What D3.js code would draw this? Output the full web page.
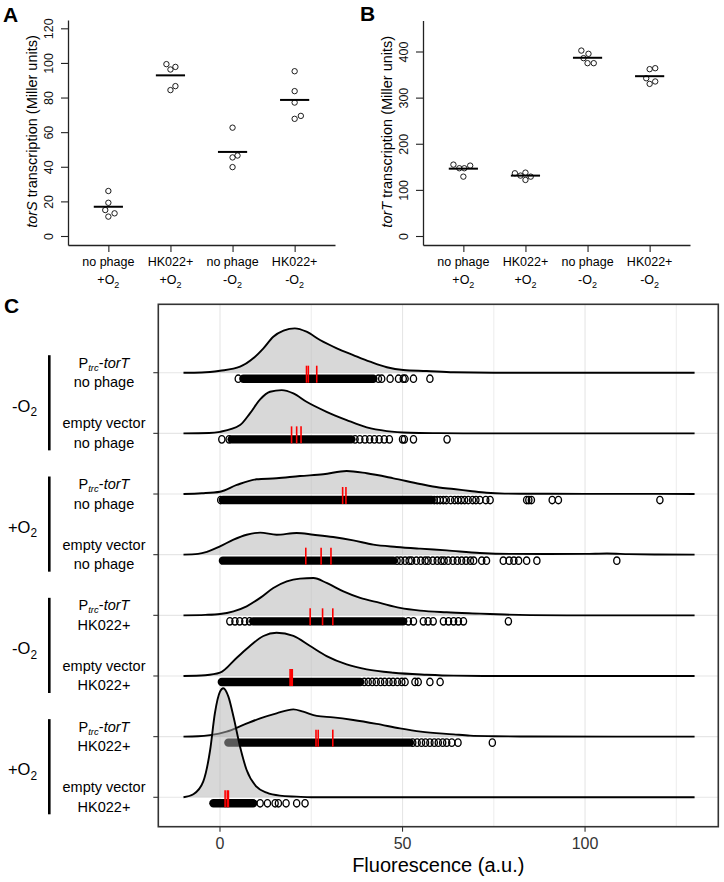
<!DOCTYPE html>
<html><head><meta charset="utf-8">
<script src="https://cdn.jsdelivr.net/npm/d3@7"></script>
<style>
body{margin:0;background:#fff;}
svg{display:block;font-family:"Liberation Sans",Arial,Helvetica,sans-serif;}
</style></head><body>
<svg id="chart" width="724" height="882"></svg>
<script>
// ---------- Panels A & B data ----------
const catLine1 = ["no phage","HK022+","no phage","HK022+"];
const catSign  = ["+","+","-","-"];
const torS = [[26,19.2,15,13.1,11.2],[99.3,97.7,96.2,86.6,84.3],[62.6,45.4,46.5,39.8],[95.2,83.7,77.1,69.4,67.7]];
const jitterA = [[0,0,-0.05,0.1,0],[-0.065,0.08,0,0.08,0],[0,0,0.08,0],[0,0,0,0.1,0]];
const ticksA = [0,20,40,60,80,100,120];
const torT = [[154.8,146.9,146.9,152.6,128.7],[136,131,137.4,128.7,121.5],[402,395,385.6,374.7,374.7],[361.7,363.8,342,335,329.8]];
const jitterB = [[-0.16,-0.065,0.015,0.11,0],[-0.17,-0.08,0,0.085,0],[-0.1,0.015,-0.065,0,0.1],[0,0.09,-0.055,0.09,0]];
const ticksB = [0,100,200,300,400];

// ---------- Panel C data ----------
const rowConstruct = ["Ptrc","empty vector","Ptrc","empty vector","Ptrc","empty vector","Ptrc","empty vector"];
const rowPhage = ["no phage","no phage","no phage","no phage","HK022+","HK022+","HK022+","HK022+"];
const groupSign = ["-","+","-","+"];
const densityX = [
 [-10,-5,0,5.5,9.1,11.9,14.6,17.4,20.5,23.7,27.4,32,36.5,41.1,45.7,50.2,56.6,64,75,130],
 [-10,-3,0,5.5,8.2,11,13.7,16.9,20.1,23.7,29.2,34.7,40.2,45.7,52,60,70,130],
 [-10,-5,0,4.6,10,15.5,21.9,28.3,34.7,40.2,47.5,54.8,60,64,68.5,73,78,90,100,120,130],
 [-10,-6,-3.6,0,3.7,7.3,11,15.5,21,25.6,31,36.5,42,48.4,54.8,62.1,71.2,80,90,100,106,112,120,130],
 [-10,-4,0,3.7,7.3,11,14.6,18.3,21.9,25.6,29.2,33.8,38.4,43.8,49.3,54.8,62.1,71.2,78,85,95,130],
 [-10,-4,0,4.6,8.2,11.9,15.5,20.1,24.7,29.2,34.7,40.2,47.5,56.6,64,75,130],
 [-10,-6,-2.7,1.8,6.4,11,15.5,20.1,22.8,26.5,31,36.5,42.9,49.3,55,64,68.5,75,85,130],
 [-10,-7.3,-4.6,-2.7,-1.4,0,0.9,2.3,3.7,5.5,7.3,10,12.8,16.4,21,25,130]
];
const densityY = [
 [0,.002,.018,.055,.132,.224,.330,.385,.407,.376,.300,.224,.162,.101,.050,.025,.016,.004,0,0],
 [0,.003,.014,.076,.183,.312,.382,.397,.367,.290,.198,.122,.055,.021,.006,.002,0,0],
 [0,.007,.021,.083,.135,.144,.165,.181,.211,.190,.144,.092,.060,.046,.028,.011,.004,.002,.001,.001,0],
 [0,.007,.025,.076,.138,.183,.202,.183,.199,.183,.162,.131,.092,.071,.055,.039,.016,.007,.006,.007,.011,.005,.001,0],
 [0,.004,.012,.037,.083,.160,.251,.312,.337,.342,.297,.220,.160,.114,.068,.043,.028,.016,.007,.002,0,0],
 [0,.007,.030,.168,.275,.367,.397,.367,.275,.183,.107,.061,.030,.012,.003,0,0],
 [0,.003,.014,.046,.107,.168,.214,.250,.229,.190,.177,.153,.117,.076,.046,.021,.009,.004,.001,0],
 [0,.028,.144,.434,.771,.969,1,.923,.739,.464,.250,.097,.042,.015,.006,0,0]
];
const denseRange = [[6.4,42],[3.2,36],[0.8,58],[0.8,47.5],[9.1,50.2],[0.5,38.4],[2.3,52],[-1.8,9.1]];
const sparsePoints = [
 [5.0,43.4,44.3,46.6,48.9,50.2,50.7,53,57.5],
 [0.5,2.5,37,38.3,39.7,41,42.3,43.6,45,46.4,50,50.5,53,62.2],
 [0.2,58.7,59.5,60.3,61.2,62,63.2,64.3,65.2,66.1,67,68,69.2,70.1,71.2,72.8,74,84,84.6,85.3,91,92.7,120.5],
 [48.5,49.5,50.7,51.8,52.5,53.8,55,56.2,57,58.3,59.5,60.6,61.4,62.5,63.8,65,66.2,67.4,68.6,69.5,71.7,73,77.6,79.2,80.5,81.8,84,86.8,108.7],
 [2.7,4.1,5.4,6.8,8.1,51.6,53,55.7,57,58.4,61.2,62.6,64,65.3,66.7,79],
 [39.5,40.6,41.7,42.8,44,45.1,46.3,47.4,48.6,49.8,50.7,53.4,54.3,57.5,60.3],
 [52.8,54,55.2,56.3,57.5,58.7,59.8,61,62.1,63.5,65.2,74.6],
 [11,13,15.1,16,18.1,21,23.3]
];
const redMarks = [[23.7,24.2,26.5],[19.6,21,22.2],[33.6,34.5],[23.5,27.7,30.4],[24.7,28.1,30.9],[19.2,19.5,19.8],[26.3,26.9,30.9],[1.4,2.0,2.3]];
const ticksC = [0,50,100];
const gridC = [0,25,50,75,100,125];

// ---------- drawing ----------
const svg = d3.select("#chart");
const AX = "#222";

function panelLabel(t,x,y){
  svg.append("text").attr("x",x).attr("y",y).attr("font-size",21).attr("font-weight","bold").text(t);
}
function oxLabel(sel, sign, fs){
  sel.append("tspan").text(sign+"O");
  sel.append("tspan").attr("font-size",fs*0.72).attr("dy",fs*0.28).text("2");
}

function dotPanel(opts){
  const {x0,x1,yTop,yBot,domain,ticks,data,jit,title} = opts;
  const x = d3.scalePoint().domain(d3.range(4)).range([x0,x1]).padding(0.65);
  const y = d3.scaleLinear().domain(domain).range([yBot,yTop]);
  const g = svg.append("g");
  const ya = g.append("g").attr("transform",`translate(${x0},0)`)
    .call(d3.axisLeft(y).tickValues(ticks).tickSize(7).tickSizeOuter(0));
  ya.select(".domain").attr("stroke",AX).attr("stroke-width",1.3);
  ya.selectAll(".tick line").attr("stroke",AX).attr("stroke-width",1.1);
  ya.selectAll(".tick text").attr("transform","rotate(-90)").attr("x",0).attr("y",-15).attr("dy",0)
    .attr("text-anchor","middle").attr("font-size",12.5).attr("fill","#111")
    .attr("font-family","'Liberation Sans',Arial,sans-serif");
  const xa = g.append("g").attr("transform",`translate(0,${yBot})`)
    .call(d3.axisBottom(x).tickSize(7).tickSizeOuter(0).tickFormat(""));
  xa.select(".domain").attr("stroke",AX).attr("stroke-width",1.3);
  xa.selectAll(".tick line").attr("stroke",AX).attr("stroke-width",1.1);
  d3.range(4).forEach(i=>{
    g.append("text").attr("x",x(i)).attr("y",yBot+21).attr("text-anchor","middle").attr("font-size",12.5).text(catLine1[i]);
    const t = g.append("text").attr("x",x(i)).attr("y",yBot+39).attr("text-anchor","middle").attr("font-size",12.5);
    oxLabel(t, catSign[i], 12.5);
  });
  const tt = g.append("text").attr("transform",`translate(${x0-31},${(yTop+yBot)/2-1}) rotate(-90)`)
    .attr("text-anchor","middle").attr("font-size",14.5);
  tt.append("tspan").attr("font-style","italic").text(title);
  tt.append("tspan").text(" transcription (Miller units)");
  data.forEach((vals,i)=>{
    vals.forEach((v,j)=>{
      g.append("circle").attr("cx",x(i)+jit[i][j]*x.step()).attr("cy",y(v)).attr("r",2.7)
        .attr("fill","none").attr("stroke","#111").attr("stroke-width",0.95);
    });
    const m = d3.mean(vals), hw = x.step()*0.235;
    g.append("line").attr("x1",x(i)-hw).attr("x2",x(i)+hw).attr("y1",y(m)).attr("y2",y(m))
      .attr("stroke","#000").attr("stroke-width",2);
  });
}

panelLabel("A",3,22);
panelLabel("B",360,21);
panelLabel("C",4,313);

dotPanel({x0:68,x1:335,yTop:20,yBot:245,domain:[-5.2,124.8],ticks:ticksA,data:torS,jit:jitterA,title:"torS"});
dotPanel({x0:423,x1:690,yTop:20.5,yBot:245,domain:[-19.5,467.2],ticks:ticksB,data:torT,jit:jitterB,title:"torT"});

// ---------- Panel C ----------
const box = {l:158.3,t:304.3,r:718.3,b:826.7};
const xC = d3.scaleLinear().domain([-16.9,136.5]).range([box.l,box.r]);
const yC = d3.scalePoint().domain(d3.range(8)).range([372.7,797.3]);
const hC = d3.scaleLinear().domain([0,1]).range([0,109]);
const gC = svg.append("g");

gridC.forEach(v=>{
  gC.append("line").attr("x1",xC(v)).attr("x2",xC(v)).attr("y1",box.t).attr("y2",box.b)
    .attr("stroke",ticksC.includes(v)?"#e6e6e6":"#eeeeee").attr("stroke-width",1.1);
});
d3.range(8).forEach(i=>{
  gC.append("line").attr("x1",box.l).attr("x2",box.r).attr("y1",yC(i)).attr("y2",yC(i))
    .attr("stroke","#e6e6e6").attr("stroke-width",1.1);
});

d3.range(8).forEach(i=>{
  const base = yC(i);
  const pts = densityX[i].map((v,k)=>[v,densityY[i][k]]);
  const area = d3.area().x(d=>xC(d[0])).y0(base).y1(d=>base-hC(d[1])).curve(d3.curveMonotoneX);
  const line = d3.line().x(d=>xC(d[0])).y(d=>base-hC(d[1])).curve(d3.curveMonotoneX);
  gC.append("path").attr("d",area(pts)).attr("fill","rgb(178,178,178)").attr("fill-opacity",0.5);
  gC.append("path").attr("d",line(pts)).attr("fill","none").attr("stroke","#000").attr("stroke-width",1.9);
  const py = base+6;
  gC.append("line").attr("x1",xC(denseRange[i][0])).attr("x2",xC(denseRange[i][1]))
    .attr("y1",py).attr("y2",py).attr("stroke","#000").attr("stroke-width",8.4).attr("stroke-linecap","round");
  sparsePoints[i].forEach(v=>{
    gC.append("ellipse").attr("cx",xC(v)).attr("cy",py).attr("rx",3.1).attr("ry",3.7)
      .attr("fill","none").attr("stroke","#000").attr("stroke-width",1.35);
  });
  redMarks[i].forEach(v=>{
    gC.append("line").attr("x1",xC(v)).attr("x2",xC(v)).attr("y1",base-7).attr("y2",base+10)
      .attr("stroke","#ff0000").attr("stroke-width",1.6);
  });
  gC.append("line").attr("x1",box.l-5).attr("x2",box.l).attr("y1",base).attr("y2",base)
    .attr("stroke","#333").attr("stroke-width",1.1);
  const t1 = gC.append("text").attr("x",104).attr("y",base-5).attr("text-anchor","middle").attr("font-size",14.5);
  if(rowConstruct[i]==="Ptrc"){
    t1.append("tspan").text("P");
    t1.append("tspan").attr("font-size",9.5).attr("font-style","italic").attr("dy",3).text("trc");
    t1.append("tspan").attr("dy",-3).text("-");
    t1.append("tspan").attr("font-style","italic").text("torT");
  } else t1.text(rowConstruct[i]);
  gC.append("text").attr("x",104).attr("y",base+14.5).attr("text-anchor","middle").attr("font-size",14.5).text(rowPhage[i]);
});

groupSign.forEach((s,k)=>{
  const a = yC(2*k), b = yC(2*k+1);
  gC.append("line").attr("x1",49.3).attr("x2",49.3).attr("y1",a-17.5).attr("y2",b+17)
    .attr("stroke","#000").attr("stroke-width",2.6);
  const t = gC.append("text").attr("x",37).attr("y",(a+b)/2+8.5).attr("text-anchor","end").attr("font-size",16.5);
  oxLabel(t, s, 16.5);
});

gC.append("rect").attr("x",box.l).attr("y",box.t).attr("width",box.r-box.l).attr("height",box.b-box.t)
  .attr("fill","none").attr("stroke","#333").attr("stroke-width",1.6);
ticksC.forEach(v=>{
  gC.append("line").attr("x1",xC(v)).attr("x2",xC(v)).attr("y1",box.b).attr("y2",box.b+5)
    .attr("stroke","#333").attr("stroke-width",1.1);
  gC.append("text").attr("x",xC(v)).attr("y",849).attr("text-anchor","middle").attr("font-size",16)
    .attr("fill","#333").text(v);
});
gC.append("text").attr("x",(box.l+box.r)/2).attr("y",872).attr("text-anchor","middle").attr("font-size",20)
  .text("Fluorescence (a.u.)");
</script>
</body></html>
